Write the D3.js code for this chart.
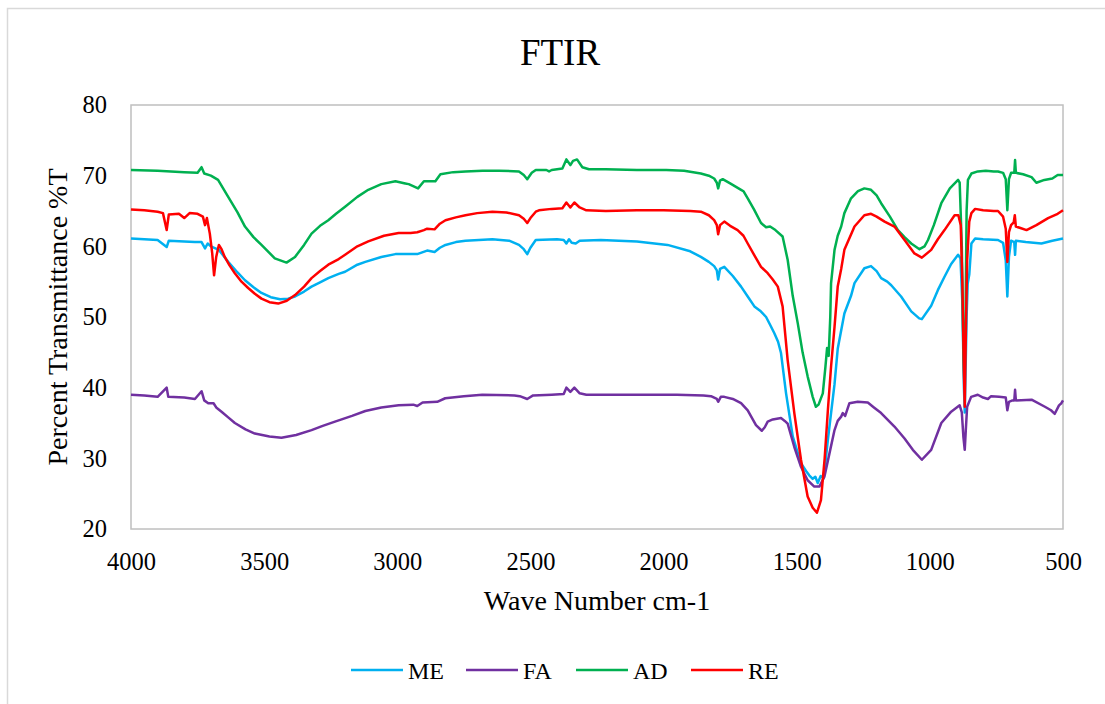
<!DOCTYPE html>
<html>
<head>
<meta charset="utf-8">
<script src="https://cdn.jsdelivr.net/npm/d3@7"></script>
<style>
  body { margin: 0; background: #fff; }
  svg text { font-family: "Liberation Serif", "Times New Roman", serif; fill: #000; }
</style>
</head>
<body>
<svg id="chart"></svg>
<script>
// [wave number, %T]
var meData = [[4000,61.1],[3950,61.0],[3900,60.9],[3866,59.9],[3858,60.8],[3800,60.7],[3760,60.6],[3735,60.6],[3722,59.7],[3712,60.4],[3700,60.0],[3670,59.5],[3635,57.8],[3600,56.3],[3572,55.2],[3540,54.2],[3510,53.4],[3475,52.8],[3440,52.5],[3410,52.6],[3384,52.9],[3350,53.6],[3322,54.3],[3290,54.9],[3259,55.5],[3220,56.1],[3196,56.4],[3150,57.4],[3120,57.8],[3060,58.5],[3007,58.9],[2960,58.9],[2925,58.9],[2888,59.4],[2860,59.2],[2840,59.8],[2819,60.2],[2780,60.6],[2744,60.8],[2643,61.0],[2580,60.8],[2543,60.2],[2525,59.6],[2512,58.9],[2500,59.8],[2480,60.9],[2400,61.0],[2375,60.9],[2365,60.4],[2355,61.0],[2345,60.5],[2330,60.4],[2315,60.8],[2236,60.9],[2100,60.7],[1985,60.2],[1900,59.3],[1860,58.5],[1830,57.8],[1810,57.2],[1800,56.6],[1795,55.3],[1788,56.8],[1772,57.1],[1740,55.8],[1709,54.3],[1684,52.9],[1659,51.5],[1635,50.8],[1615,50.0],[1600,48.9],[1584,47.7],[1570,46.5],[1559,44.9],[1540,39.2],[1515,33.1],[1484,29.3],[1465,28.2],[1453,27.6],[1440,27.1],[1430,27.4],[1421,26.5],[1410,27.5],[1400,27.2],[1392,29.5],[1383,32.6],[1371,36.4],[1358,40.5],[1346,45.5],[1321,50.5],[1296,53.0],[1283,54.8],[1246,56.9],[1221,57.2],[1200,56.5],[1183,55.5],[1160,55.0],[1145,54.5],[1108,52.9],[1070,50.8],[1040,49.8],[1030,49.7],[995,51.6],[970,53.8],[945,55.7],[920,57.5],[894,58.8],[885,58.3],[878,52],[872,40],[869,36.5],[866,42],[862,50],[858,54.7],[852,56],[844,60.4],[830,61.1],[800,61.0],[744,60.9],[725,60.5],[715,58],[709,52.9],[703,58.5],[695,60.8],[683,60.6],[680,58.8],[677,60.8],[640,60.6],[581,60.4],[540,60.8],[500,61.1]];

var faData = [[4000,39.0],[3950,38.9],[3900,38.7],[3866,40.0],[3860,38.7],[3800,38.6],[3760,38.4],[3735,39.5],[3725,38.2],[3710,37.8],[3690,37.8],[3680,37.2],[3660,36.6],[3635,35.8],[3610,35.0],[3570,34.1],[3535,33.5],[3480,33.1],[3435,32.9],[3380,33.3],[3322,34.0],[3280,34.6],[3234,35.2],[3170,36.0],[3120,36.7],[3060,37.2],[2995,37.5],[2940,37.6],[2925,37.4],[2905,37.9],[2850,38.0],[2820,38.5],[2750,38.8],[2681,39.0],[2560,38.9],[2540,38.8],[2512,38.4],[2490,38.9],[2420,39.0],[2375,39.1],[2365,40.0],[2350,39.4],[2335,40.0],[2315,39.2],[2290,39.0],[2100,39.0],[1950,39.0],[1850,38.9],[1822,38.8],[1800,38.4],[1795,38.0],[1785,38.7],[1772,38.7],[1740,38.4],[1709,37.8],[1684,36.8],[1653,34.7],[1631,33.9],[1620,34.4],[1609,35.2],[1590,35.5],[1559,35.7],[1545,35.3],[1534,34.9],[1509,31.6],[1484,28.8],[1459,26.9],[1434,26.0],[1415,26.0],[1396,27.4],[1377,30.7],[1358,34.0],[1346,35.3],[1333,35.9],[1327,36.4],[1318,36.0],[1302,37.8],[1271,38.0],[1233,37.9],[1210,37.2],[1183,36.4],[1133,34.5],[1095,32.8],[1064,31.2],[1030,29.8],[995,31.2],[957,35.0],[920,36.6],[888,37.5],[880,36.5],[874,33],[869,31.2],[865,34],[860,37.3],[845,38.7],[820,39.0],[800,38.6],[782,38.4],[770,38.8],[740,38.7],[715,38.6],[709,36.8],[703,38.0],[690,38.2],[683,38.2],[680,39.7],[677,38.2],[618,38.3],[568,37.3],[545,36.8],[531,36.3],[515,37.5],[506,37.8],[500,38.2]];

var adData = [[4000,70.8],[3900,70.7],[3850,70.6],[3800,70.5],[3750,70.4],[3735,71.2],[3725,70.3],[3700,70.0],[3673,69.4],[3635,67.0],[3600,64.8],[3572,62.8],[3540,61.3],[3510,60.2],[3460,58.3],[3416,57.7],[3384,58.5],[3350,60.2],[3322,61.8],[3290,62.9],[3259,63.7],[3230,64.6],[3196,65.6],[3150,67.0],[3109,68.0],[3060,68.8],[3007,69.2],[2970,68.9],[2957,68.8],[2922,68.2],[2900,69.2],[2857,69.2],[2838,70.2],[2790,70.5],[2744,70.6],[2680,70.7],[2618,70.7],[2543,70.6],[2525,70.1],[2512,69.5],[2495,70.4],[2480,70.8],[2440,70.8],[2430,70.6],[2420,70.8],[2380,71.0],[2365,72.3],[2350,71.5],[2340,72.1],[2325,72.3],[2305,71.2],[2280,70.9],[2217,70.9],[2100,70.8],[1990,70.8],[1923,70.7],[1860,70.3],[1830,70.0],[1810,69.6],[1800,69.0],[1795,68.2],[1788,69.3],[1778,69.5],[1750,68.9],[1709,68.0],[1700,67.8],[1684,66.8],[1660,65.2],[1634,63.3],[1615,62.7],[1600,62.8],[1580,62.3],[1553,61.4],[1534,58.1],[1515,53.0],[1496,49.1],[1478,45.0],[1459,41.6],[1440,38.7],[1428,37.3],[1418,37.6],[1402,39.2],[1392,43.0],[1386,45.6],[1380,44.5],[1374,50.0],[1371,54.8],[1358,59.5],[1346,61.5],[1333,62.8],[1321,64.7],[1296,66.8],[1270,67.8],[1246,68.2],[1221,68.0],[1200,67.2],[1183,66.1],[1150,64.2],[1120,62.3],[1095,61.3],[1070,60.4],[1039,59.6],[1020,60.0],[1007,60.9],[985,63.0],[957,66.1],[925,68.2],[894,69.4],[888,69.0],[880,60],[874,45],[870,40],[866,50],[862,65],[857,69.4],[844,70.3],[820,70.6],[790,70.7],[760,70.6],[744,70.6],[725,70.4],[715,69.5],[709,65.1],[703,69.5],[695,70.4],[683,70.4],[680,72.2],[677,70.4],[650,70.2],[618,69.8],[600,69.0],[570,69.4],[540,69.6],[520,70.1],[500,70.1]];

var reData = [[4000,65.2],[3950,65.1],[3900,64.9],[3880,64.7],[3866,62.3],[3858,64.5],[3820,64.6],[3800,64.0],[3780,64.7],[3750,64.6],[3730,64.2],[3722,63.0],[3715,64.0],[3704,61.8],[3695,59.0],[3688,55.9],[3680,58.5],[3670,60.2],[3660,59.6],[3648,58.5],[3630,57.3],[3610,56.2],[3585,55.0],[3560,54.1],[3535,53.3],[3510,52.6],[3480,52.1],[3447,51.9],[3415,52.3],[3384,53.1],[3350,54.3],[3322,55.5],[3290,56.5],[3259,57.4],[3220,58.2],[3196,58.8],[3150,60.0],[3109,60.7],[3050,61.5],[2995,61.9],[2950,61.9],[2925,62.0],[2900,62.3],[2888,62.5],[2860,62.4],[2840,63.2],[2819,63.7],[2780,64.1],[2744,64.4],[2700,64.7],[2643,64.9],[2590,64.8],[2543,64.4],[2525,63.9],[2512,63.3],[2500,64.0],[2480,64.9],[2468,65.1],[2420,65.3],[2380,65.4],[2365,66.2],[2350,65.5],[2335,66.2],[2315,65.5],[2290,65.1],[2217,65.0],[2100,65.1],[2000,65.1],[1900,65.0],[1860,64.9],[1830,64.4],[1810,63.7],[1800,63.0],[1795,61.7],[1788,63.0],[1772,63.5],[1750,62.9],[1722,62.3],[1700,61.5],[1684,60.4],[1660,58.8],[1634,57.1],[1609,56.2],[1590,55.3],[1571,54.3],[1553,51.5],[1534,43.9],[1509,36.4],[1484,29.8],[1459,24.6],[1440,23.0],[1424,22.3],[1409,24.1],[1395,30.0],[1383,36.8],[1371,43.0],[1358,48.6],[1346,54.3],[1333,56.8],[1321,59.5],[1283,62.8],[1246,64.4],[1221,64.6],[1200,64.2],[1170,63.5],[1133,62.8],[1095,60.9],[1058,59.0],[1030,58.4],[995,59.5],[970,61.0],[945,62.3],[907,64.4],[893,64.4],[884,63.0],[878,55],[872,42],[869,37.3],[866,45],[860,58],[852,63.5],[844,64.7],[830,65.3],[800,65.1],[760,65.0],[744,65.0],[725,64.2],[715,62.5],[709,57.8],[703,62.0],[695,63.0],[685,63.4],[681,64.4],[677,62.8],[660,62.6],[637,62.3],[600,63.0],[556,64.0],[520,64.6],[500,65.1]];

var seriesNames = ["ME", "FA", "AD", "RE"];
var seriesColors = ["#00B0F0", "#7030A0", "#00B050", "#FF0000"];
var xTicks = [4000, 3500, 3000, 2500, 2000, 1500, 1000, 500];
var yTicks = [20, 30, 40, 50, 60, 70, 80];

var width = 1105, height = 704;
var svg = d3.select("#chart").attr("width", width).attr("height", height);

var plotLeft = 131, plotRight = 1063, plotTop = 105, plotBottom = 529;

var x = d3.scaleLinear().domain([4000, 500]).range([plotLeft, plotRight]);
var y = d3.scaleLinear().domain([20, 80]).range([plotBottom, plotTop]);

// outer chart border
svg.append("rect")
    .attr("x", 7.5).attr("y", 8.5)
    .attr("width", width + 20).attr("height", height + 20)
    .attr("fill", "none").attr("stroke", "#d9d9d9").attr("stroke-width", 1.5);

// plot frame
svg.append("rect")
    .attr("x", plotLeft).attr("y", plotTop)
    .attr("width", plotRight - plotLeft).attr("height", plotBottom - plotTop)
    .attr("fill", "none").attr("stroke", "#bfbfbf").attr("stroke-width", 1.5);

svg.append("text")
    .attr("x", 560).attr("y", 65)
    .attr("text-anchor", "middle")
    .style("font-size", "37px")
    .text("FTIR");

var xAxis = svg.append("g")
    .attr("transform", "translate(0," + plotBottom + ")")
    .call(d3.axisBottom(x).tickValues(xTicks).tickSize(0).tickPadding(24).tickFormat(d3.format("d")));
xAxis.select(".domain").remove();
xAxis.selectAll("text").style("font-size", "24.5px").attr("fill", "#000")
    .style("font-family", "'Liberation Serif', 'Times New Roman', serif");

var yAxis = svg.append("g")
    .attr("transform", "translate(" + plotLeft + ",0)")
    .call(d3.axisLeft(y).tickValues(yTicks).tickSize(0).tickPadding(24));
yAxis.select(".domain").remove();
yAxis.selectAll("text").style("font-size", "24.5px").attr("fill", "#000")
    .style("font-family", "'Liberation Serif', 'Times New Roman', serif");

svg.append("text")
    .attr("x", (plotLeft + plotRight) / 2).attr("y", 610)
    .attr("text-anchor", "middle")
    .style("font-size", "28px")
    .text("Wave Number cm-1");

svg.append("text")
    .attr("transform", "translate(67," + ((plotTop + plotBottom) / 2) + ") rotate(-90)")
    .attr("text-anchor", "middle")
    .style("font-size", "28px")
    .text("Percent Transmittance %T");

var line = d3.line()
    .x(function (d) { return x(d[0]); })
    .y(function (d) { return y(d[1]); });

var allData = [meData, faData, adData, reData];
svg.append("g")
    .selectAll("path")
    .data(allData)
    .enter().append("path")
    .attr("d", line)
    .attr("fill", "none")
    .attr("stroke", function (d, i) { return seriesColors[i]; })
    .attr("stroke-width", 2.5)
    .attr("stroke-linejoin", "round");

// legend
var legendX = [351, 466, 576, 691];
var legend = svg.append("g")
    .selectAll("g")
    .data(seriesNames)
    .enter().append("g")
    .attr("transform", function (d, i) { return "translate(" + legendX[i] + ",670)"; });
legend.append("line")
    .attr("x1", 0).attr("x2", 52)
    .attr("stroke", function (d, i) { return seriesColors[i]; })
    .attr("stroke-width", 2.5);
legend.append("text")
    .attr("x", 57).attr("y", 8.5)
    .style("font-size", "24px")
    .text(function (d) { return d; });
</script>
</body>
</html>
